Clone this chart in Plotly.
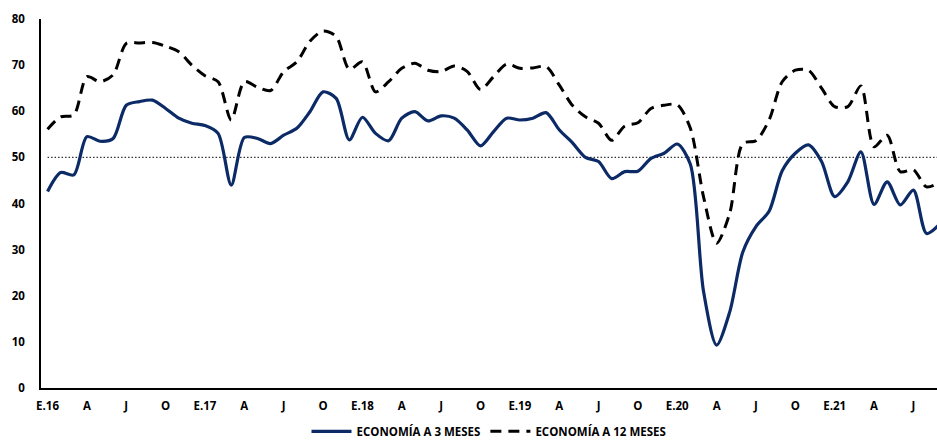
import plotly.graph_objects as go

# Monthly index: Jan 2016 (0) ... Sep 2021 (68)
months = list(range(69))

economia_3m = [
    42.6, 46.7, 46.2, 54.5, 53.5, 54.1, 61.3, 62.1, 62.4, 60.6, 58.5, 57.4,   # 2016
    56.9, 55.2, 44.0, 54.3, 54.1, 53.0, 54.8, 56.3, 59.9, 64.2, 62.8, 53.8,   # 2017
    58.7, 55.2, 53.6, 58.5, 59.9, 57.9, 59.0, 58.5, 55.9, 52.5, 55.6, 58.5,   # 2018
    58.1, 58.5, 59.7, 56.0, 53.2, 50.0, 49.1, 45.4, 46.9, 47.0, 49.8, 50.9,   # 2019
    52.9, 48.5, 21.0, 9.3, 16.5, 29.5, 35.0, 38.3, 47.1, 50.9, 52.7, 49.1,    # 2020
    41.5, 44.7, 51.2, 39.8, 44.7, 39.7, 42.9, 33.5, 35.5,                     # 2021
]

economia_12m = [
    56.1, 58.8, 59.2, 67.5, 66.4, 67.9, 74.7, 74.8, 74.9, 74.1, 72.9, 70.0,   # 2016
    67.7, 66.4, 58.1, 66.4, 65.2, 64.5, 68.6, 70.7, 75.2, 77.4, 76.2, 69.1,   # 2017
    70.7, 64.2, 66.4, 69.3, 70.4, 68.9, 68.6, 69.8, 68.6, 64.7, 67.5, 70.2,   # 2018
    69.3, 69.4, 69.7, 65.7, 61.3, 58.8, 57.4, 53.7, 56.8, 57.5, 60.6, 61.3,   # 2019
    61.4, 56.3, 41.5, 31.4, 37.9, 53.0, 53.6, 58.1, 66.4, 68.9, 68.9, 65.0,   # 2020
    61.0, 61.0, 65.5, 52.3, 54.8, 46.9, 47.3, 43.6, 44.6,                     # 2021
]

ref_level = 50

tick_positions = list(range(0, 67, 3))
tick_labels = ["E.16", "A", "J", "O", "E.17", "A", "J", "O", "E.18", "A", "J", "O",
               "E.19", "A", "J", "O", "E.20", "A", "J", "O", "E.21", "A", "J"]

y_ticks = [0, 10, 20, 30, 40, 50, 60, 70, 80]

FONT = "Open Sans"

fig = go.Figure()

fig.add_trace(go.Scatter(
    x=months, y=[ref_level] * len(months), mode="lines",
    line=dict(color="#333333", width=1.3, dash="1.5px,2px"),
    showlegend=False, hoverinfo="skip",
))

fig.add_trace(go.Scatter(
    x=months, y=economia_3m, mode="lines", name="ECONOMÍA A 3 MESES",
    line=dict(color="#0B2A66", width=3.2, shape="spline", smoothing=0.8),
))

fig.add_trace(go.Scatter(
    x=months, y=economia_12m, mode="lines", name="ECONOMÍA A 12 MESES",
    line=dict(color="#000000", width=3, shape="spline", smoothing=0.8, dash="11px,7px"),
))

fig.update_layout(
    width=937, height=440,
    margin=dict(l=41, r=0, t=19, b=52, autoexpand=False),
    paper_bgcolor="white", plot_bgcolor="white",
    font=dict(family=FONT, size=11, color="#000000"),
    legend=dict(
        orientation="h", x=0.5, xanchor="center", y=-0.078, yanchor="top",
        font=dict(family=FONT, size=11.5, color="#000000", weight="bold"),
        itemwidth=40, tracegroupgap=0,
    ),
    showlegend=True,
)

fig.update_xaxes(
    range=[-0.5, 67.8],
    tickmode="array", tickvals=tick_positions, ticktext=tick_labels,
    showgrid=False, zeroline=False, automargin=False,
    showline=True, linecolor="#000000", linewidth=1.5,
    ticks="", ticklabelstandoff=6,
    tickfont=dict(family=FONT, size=11.5, color="#000000", weight="bold"),
    fixedrange=True,
)

fig.update_yaxes(
    range=[0, 80],
    tickmode="array", tickvals=y_ticks,
    showgrid=False, zeroline=False, automargin=False,
    showline=True, linecolor="#000000", linewidth=1.5,
    ticks="", ticklabelstandoff=12,
    tickfont=dict(family=FONT, size=11.5, color="#000000", weight="bold"),
    fixedrange=True,
)

fig.write_html(
    "out.html",
    config={"displayModeBar": False},
    post_script="document.body.style.margin='0';document.body.style.padding='0';",
)
